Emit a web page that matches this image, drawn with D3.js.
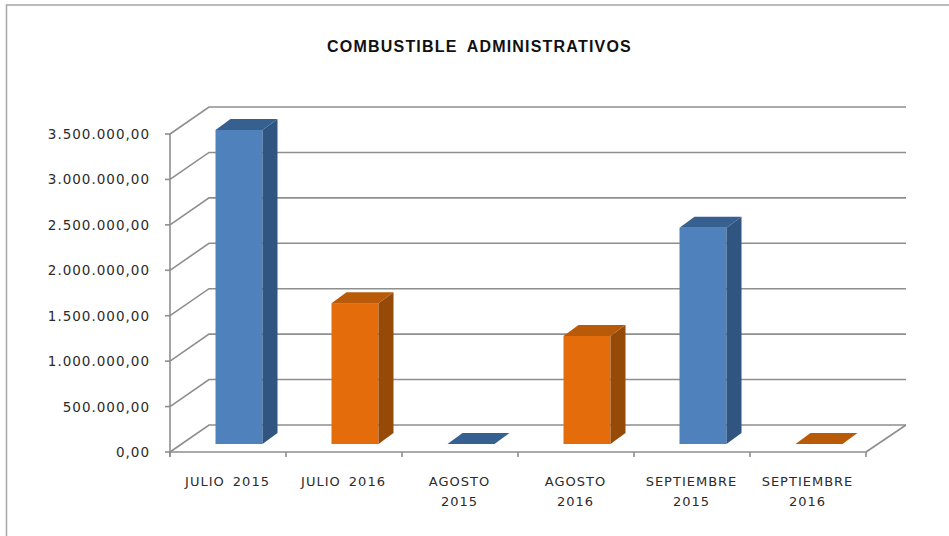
<!DOCTYPE html>
<html>
<head>
<meta charset="utf-8">
<script src="https://cdn.jsdelivr.net/npm/d3@7"></script>
<style>
  html, body { margin: 0; padding: 0; background: #fff; }
  text { font-family: "DejaVu Sans", sans-serif; fill: #2b2b2b; }
</style>
</head>
<body>
<div id="chart"></div>
<script>
const categories = [['JULIO 2015'], ['JULIO 2016'], ['AGOSTO', '2015'], ['AGOSTO', '2016'], ['SEPTIEMBRE', '2015'], ['SEPTIEMBRE', '2016']];
const values = [3456000, 1550000, 0, 1190000, 2380000, 0];
const barColors = ['blue', 'orange', 'blue', 'orange', 'blue', 'orange'];
const yTicks = [0, 500000, 1000000, 1500000, 2000000, 2500000, 3000000, 3500000];

const colors = {
  blue: { front: '#4f81bd', side: '#2f5580', top: '#35608f' },
  orange: { front: '#e46c0a', side: '#964a08', top: '#b85a08' },
  grid: '#8e8e8e',
  border: '#a6a6a6'
};

const width = 949, height = 536;
const plot = { left: 170, right: 866, bottom: 452, top: 134 };
const depthX = 39, depthY = 27;   // offset of back wall from the axis plane

const svg = d3.select('#chart').append('svg')
  .attr('width', width)
  .attr('height', height)
  .style('display', 'block');

const y = d3.scaleLinear().domain([0, 3500000]).range([plot.bottom, plot.top]);
const x = d3.scaleBand().domain(d3.range(categories.length)).range([plot.left, plot.right]);
const formatValue = v => d3.format(',.2f')(v).replace(/,/g, '#').replace('.', ',').replace(/#/g, '.');

// outer frame of the chart area
svg.append('path')
  .attr('d', `M6.5,${height}V5H${width}`)
  .attr('fill', 'none')
  .attr('stroke', colors.border)
  .attr('stroke-width', 1.5);

svg.append('text')
  .attr('x', 479.5)
  .attr('y', 52)
  .attr('text-anchor', 'middle')
  .style('font-family', '"Liberation Sans", sans-serif')
  .style('font-size', '16px')
  .style('font-weight', 'bold')
  .style('letter-spacing', '1.2px')
  .style('word-spacing', '4px')
  .style('fill', '#111')
  .text('COMBUSTIBLE ADMINISTRATIVOS');

// walls: gridlines on the back and side, axes in front
const grid = svg.append('g')
  .attr('fill', 'none')
  .attr('stroke', colors.grid)
  .attr('stroke-width', 1.6);

yTicks.forEach(t => {
  grid.append('path')
    .attr('d', `M${plot.left},${y(t)}L${plot.left + depthX},${y(t) - depthY}H${plot.right + depthX + 1}`);
  grid.append('line')
    .attr('x1', plot.left - 5).attr('x2', plot.left)
    .attr('y1', y(t)).attr('y2', y(t));
});

grid.append('line')
  .attr('x1', plot.left).attr('x2', plot.left)
  .attr('y1', plot.top).attr('y2', plot.bottom + 5);
grid.append('line')
  .attr('x1', plot.left).attr('x2', plot.right)
  .attr('y1', plot.bottom).attr('y2', plot.bottom);
grid.append('line')
  .attr('x1', plot.right).attr('x2', plot.right + depthX + 1)
  .attr('y1', plot.bottom).attr('y2', plot.bottom - depthY);

d3.range(categories.length + 1).forEach(i => {
  const px = i < categories.length ? x(i) : plot.right;
  grid.append('line')
    .attr('x1', px).attr('x2', px)
    .attr('y1', plot.bottom).attr('y2', plot.bottom + 5);
});

// bars sit part way into the depth of the floor
const barW = 47, barDX = 15, barDY = 11, floorDX = 11, floorDY = 8;
const bars = svg.append('g')
  .selectAll('g')
  .data(values)
  .enter()
  .append('g');

bars.each(function (d, i) {
  const g = d3.select(this);
  const c = colors[barColors[i]];
  const x0 = x(i) + x.bandwidth() / 2 - barW / 2 + floorDX;
  const x1 = x0 + barW;
  const yb = y(0) - floorDY;
  const yt = y(d) - floorDY;
  if (d > 0) {
    g.append('rect')
      .attr('x', x0).attr('y', yt)
      .attr('width', barW).attr('height', yb - yt)
      .attr('fill', c.front);
    g.append('path')
      .attr('d', `M${x1},${yt}l${barDX},${-barDY}V${yb - barDY}L${x1},${yb}Z`)
      .attr('fill', c.side);
  }
  g.append('path')
    .attr('d', `M${x0},${yt}l${barDX},${-barDY}h${barW}l${-barDX},${barDY}Z`)
    .attr('fill', c.top);
});

// y tick labels
svg.append('g')
  .selectAll('text')
  .data(yTicks)
  .enter()
  .append('text')
  .attr('x', 150)
  .attr('y', d => y(d) + 5)
  .attr('text-anchor', 'end')
  .style('font-size', '13.5px')
  .style('letter-spacing', '1px')
  .text(formatValue);

// category labels
const labels = svg.append('g')
  .selectAll('text')
  .data(categories)
  .enter()
  .append('text')
  .attr('text-anchor', 'middle')
  .style('font-size', '13px')
  .style('letter-spacing', '1px')
  .style('word-spacing', '3px');

labels.each(function (lines, i) {
  d3.select(this).selectAll('tspan')
    .data(lines)
    .enter()
    .append('tspan')
    .attr('x', x(i) + x.bandwidth() / 2 - 0.5)
    .attr('y', (d, j) => 486 + j * 20)
    .text(d => d);
});
</script>
</body>
</html>
